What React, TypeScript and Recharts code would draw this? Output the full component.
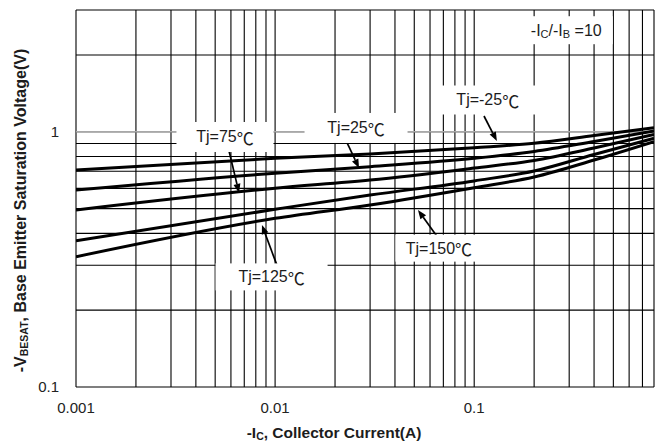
import React from 'react';
import { LineChart, Line, XAxis, YAxis, CartesianGrid, ReferenceLine, ReferenceDot } from 'recharts';

// Collector current (A)
const currents = [0.001, 0.01, 0.03, 0.1, 0.2, 0.4, 0.8];
// -VBE(sat) (V) per junction temperature
const vbeM25 = [0.708, 0.787, 0.818, 0.866, 0.901, 0.966, 1.038];
const vbe25 = [0.591, 0.688, 0.73, 0.787, 0.837, 0.916, 1.007];
const vbe75 = [0.494, 0.601, 0.647, 0.721, 0.772, 0.864, 0.976];
const vbe125 = [0.374, 0.497, 0.565, 0.642, 0.702, 0.815, 0.943];
const vbe150 = [0.324, 0.458, 0.517, 0.604, 0.665, 0.775, 0.915];

const xTicks = [
  0.001, 0.002, 0.003, 0.004, 0.005, 0.006, 0.007, 0.008, 0.009,
  0.01, 0.02, 0.03, 0.04, 0.05, 0.06, 0.07, 0.08, 0.09,
  0.1, 0.2, 0.3, 0.4, 0.5, 0.6, 0.7, 0.8,
];
const xLabeled = [0.001, 0.01, 0.1];
const yTicks = [0.1, 0.2, 0.3, 0.4, 0.5, 0.6, 0.7, 0.8, 0.9, 1, 2, 3];
const yLabeled = [0.1, 1];

// annotation labels (data coords)
const tempLabels = ['Tj=-25', 'Tj=25', 'Tj=75', 'Tj=125', 'Tj=150'];
const labelX = [0.117, 0.0255, 0.0056, 0.0096, 0.0665];
const labelY = [1.332, 1.035, 0.954, 0.27, 0.35];
const boxW = [98, 103, 97, 112, 87];
const boxH = [29, 30, 30, 27, 27];
// arrows (start -> tip, data coords)
const arrowX1 = [0.112, 0.023, 0.00587, 0.0102, 0.0658];
const arrowY1 = [1.153, 0.904, 0.841, 0.301, 0.384];
const arrowX2 = [0.13, 0.0264, 0.00659, 0.00859, 0.0522];
const arrowY2 = [0.92, 0.721, 0.576, 0.431, 0.494];

const data = currents.map((x, i) => ({
  x,
  m25: vbeM25[i],
  t25: vbe25[i],
  t75: vbe75[i],
  t125: vbe125[i],
  t150: vbe150[i],
}));

const FONT = '"Liberation Sans", Arial, sans-serif';
const CJK = '"Noto Sans CJK SC", sans-serif';
const TXT = '#1c1c1c';

const Arrow = (props: any) => {
  const { x1, y1, x2, y2 } = props;
  const dx = x2 - x1;
  const dy = y2 - y1;
  const len = Math.sqrt(dx * dx + dy * dy) || 1;
  const ux = dx / len;
  const uy = dy / len;
  const hl = 9;
  const hw = 3.5;
  const bx = x2 - ux * hl;
  const by = y2 - uy * hl;
  const pts = `${x2},${y2} ${bx - uy * hw},${by + ux * hw} ${bx + uy * hw},${by - ux * hw}`;
  return (
    <g>
      <line x1={x1} y1={y1} x2={bx} y2={by} stroke="#000" strokeWidth={1.7} />
      <polygon points={pts} fill="#000" />
    </g>
  );
};

const makeBox = (w: number, h: number, content: React.ReactNode) => (props: any) => {
  const { cx, cy } = props;
  return (
    <g>
      <rect x={cx - w / 2} y={cy - h / 2} width={w} height={h} fill="#fff" />
      <text x={cx} y={cy} textAnchor="middle" dominantBaseline="central" fontSize={16} fill={TXT} fontFamily={FONT}>
        {content}
      </text>
    </g>
  );
};

const XTitle = (props: any) => {
  const vb = props.viewBox || { x: 76, y: 387, width: 578 };
  const cx = vb.x + vb.width / 2 - 31;
  return (
    <text x={cx} y={432} textAnchor="middle" dominantBaseline="central" fontSize={15.5} fontWeight="bold" fill={TXT} fontFamily={FONT}>
      -I<tspan fontSize={10.5} dy={4}>C</tspan>
      <tspan dy={-4}>, Collector Current(A)</tspan>
    </text>
  );
};

const YTitle = (props: any) => {
  const vb = props.viewBox || { x: 0, y: 10, height: 377 };
  const cy = vb.y + vb.height / 2 + 12;
  const cx = 20;
  return (
    <text
      x={cx}
      y={cy}
      transform={`rotate(-90, ${cx}, ${cy})`}
      textAnchor="middle"
      dominantBaseline="central"
      fontSize={16}
      fontWeight="bold"
      fill={TXT}
      fontFamily={FONT}
    >
      -V<tspan fontSize={10.5} dy={4}>BESAT</tspan>
      <tspan dy={-4}>, Base Emitter Saturation Voltage(V)</tspan>
    </text>
  );
};

const series = [
  { key: 'm25' },
  { key: 't25' },
  { key: 't75' },
  { key: 't125' },
  { key: 't150' },
];

export default function App() {
  return (
    <div style={{ position: 'absolute', left: 0, top: 0, background: '#fff' }}>
      <LineChart
        width={659}
        height={443}
        data={data}
        margin={{ top: 10, right: 5, bottom: 26, left: 0 }}
        style={{ fontFamily: FONT }}
      >
        <CartesianGrid stroke="#000" strokeWidth={1.1} vertical horizontal />
        <XAxis
          dataKey="x"
          type="number"
          scale="log"
          domain={[0.001, 0.8]}
          allowDataOverflow
          ticks={xTicks}
          interval={0}
          tickFormatter={(v: number) => (xLabeled.includes(v) ? String(v) : '')}
          tickLine={false}
          axisLine={false}
          tickSize={0}
          tickMargin={15}
          height={30}
          tick={{ fontSize: 15, fill: '#222', fontFamily: FONT }}
          label={{ content: (p: any) => <XTitle {...p} /> }}
        />
        <YAxis
          type="number"
          scale="log"
          domain={[0.1, 3]}
          allowDataOverflow
          ticks={yTicks}
          interval={0}
          tickFormatter={(v: number) => (yLabeled.includes(v) ? String(v) : '')}
          tickLine={false}
          axisLine={false}
          tickSize={0}
          tickMargin={17}
          width={76}
          tick={{ fontSize: 15, fill: '#222', fontFamily: FONT }}
          label={{ content: (p: any) => <YTitle {...p} /> }}
        />
        <ReferenceLine y={1} stroke="#a8a8a8" strokeWidth={1.4} />
        <ReferenceDot
          x={0.29}
          y={2.5}
          r={1}
          shape={makeBox(93, 28, (
            <>
              -I<tspan fontSize={11} dy={4}>C</tspan>
              <tspan dy={-4}>/-I</tspan>
              <tspan fontSize={11} dy={4}>B</tspan>
              <tspan dy={-4}> =10</tspan>
            </>
          ))}
        />
        {tempLabels.map((t, i) => (
          <ReferenceDot
            key={t}
            x={labelX[i]}
            y={labelY[i]}
            r={1}
            shape={makeBox(boxW[i], boxH[i], (
              <>
                {t}
                <tspan fontFamily={CJK} fontSize={17}>℃</tspan>
              </>
            ))}
          />
        ))}
        {series.map((s) => (
          <Line
            key={s.key}
            dataKey={s.key}
            type="monotone"
            stroke="#000"
            strokeWidth={3}
            dot={false}
            isAnimationActive={false}
          />
        ))}
        {tempLabels.map((t, i) => (
          <ReferenceLine
            key={'a' + t}
            segment={[
              { x: arrowX1[i], y: arrowY1[i] },
              { x: arrowX2[i], y: arrowY2[i] },
            ]}
            shape={(p: any) => <Arrow {...p} />}
          />
        ))}
      </LineChart>
    </div>
  );
}
